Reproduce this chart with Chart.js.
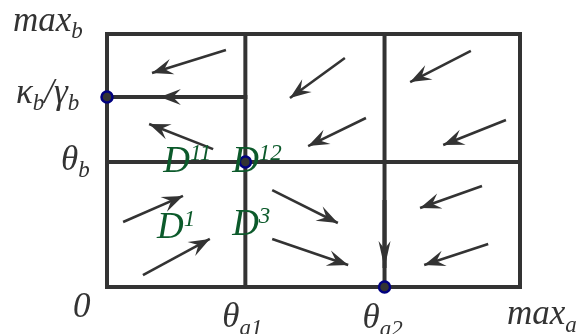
<!DOCTYPE html>
<html><head><meta charset="utf-8">
<script src="https://cdn.jsdelivr.net/npm/chart.js@4/dist/chart.umd.min.js"></script>
<style>html,body{margin:0;padding:0;background:#fff;overflow:hidden}#c{display:block}</style>
</head><body>
<canvas id="c" width="582" height="334"></canvas>
<script>
// ---- thresholds (axes normalised 0..1) ----
const thetaA1 = 0.335, thetaA2 = 0.672, thetaB = 0.494, kappaB = 0.751;

// ---- boundary / threshold segments [x0, y0, x1, y1] ----
const segX0 = [0, 1, 1, 0, thetaA1, thetaA2, 0, 0];
const segY0 = [0, 0, 1, 1, 0, 0, thetaB, kappaB];
const segX1 = [1, 1, 0, 0, thetaA1, thetaA2, 1, thetaA1];
const segY1 = [0, 1, 1, 0, 1, 1, thetaB, kappaB];

// ---- flow arrows: tail -> tip ----
const arrowTailX = [0.288, 0.225, 0.257, 0.039, 0.087, 0.400, 0.400, 0.908, 0.923, 0.576, 0.627, 0.881, 0.966, thetaA2];
const arrowTailY = [0.937, kappaB, 0.545, 0.257, 0.047, 0.383, 0.190, 0.399, 0.170, 0.905, 0.668, 0.933, 0.660, 0.344];
const arrowTipX  = [0.109, 0.128, 0.102, 0.184, 0.249, 0.559, 0.584, 0.758, 0.768, 0.443, 0.487, 0.734, 0.814, thetaA2];
const arrowTipY  = [0.846, kappaB, 0.644, 0.360, 0.190, 0.253, 0.087, 0.312, 0.087, 0.747, 0.557, 0.810, 0.561, 0.075];
const arrowLong  = [false,false,false,false,false,false,false,false,false,false,false,false,false,true];

// ---- equilibrium points ----
const eqX = [0, thetaA1, thetaA2];
const eqY = [kappaB, thetaB, 0];

// ---- tick labels ----
const yTickValues = [1, kappaB, thetaB];
const yTickLabels = ['max_{b}', 'κ_{b}/γ_{b}', 'θ_{b}'];
const xTickValues = [0, thetaA1, thetaA2, 1];
const xTickLabels = ['0', 'θ_{a1}', 'θ_{a2}', 'max_{a}'];

// ---- region labels ----
const regionLabels = ['D^{11}', 'D^{12}', 'D^{1}', 'D^{3}'];
const regionLabelX = [0.136, 0.303, 0.121, 0.303];
const regionLabelY = [0.455, 0.455, 0.194, 0.206];

// ---- layout of text (pixel offsets from anchor: left edge, baseline) ----
const yLabelDx = [-94, -91, -46];
const yLabelDy = [-3, 6, 8];
const xLabelDx = [-34, -23, -22, -13];
const xLabelDy = [30, 40, 41, 37];

const GRID = '#333333', GREEN = '#0c5a2b';

function parseRich(s) {
  const parts = []; const re = /([_^])\{([^}]*)\}/g; let last = 0, m;
  while ((m = re.exec(s))) {
    if (m.index > last) parts.push({t: s.slice(last, m.index), k: ''});
    parts.push({t: m[2], k: m[1]}); last = re.lastIndex;
  }
  if (last < s.length) parts.push({t: s.slice(last), k: ''});
  return parts;
}
function drawRich(ctx, s, x, y, base, small, color, shift) {
  ctx.save(); ctx.fillStyle = color; ctx.textBaseline = 'alphabetic'; ctx.textAlign = 'left';
  let cx = x;
  for (const p of parseRich(s)) {
    const sz = p.k ? small : base;
    ctx.font = 'italic ' + sz + 'px "Liberation Serif", "DejaVu Serif", serif';
    const dy = p.k === '_' ? shift.sub : (p.k === '^' ? -shift.sup : 0);
    ctx.fillText(p.t, cx, y + dy);
    cx += ctx.measureText(p.t).width;
  }
  ctx.restore();
}

const overlay = {
  id: 'overlay',
  afterDatasetsDraw(chart) {
    const ctx = chart.ctx, xs = chart.scales.x, ys = chart.scales.y;
    // arrowheads
    for (let i = 0; i < arrowTipX.length; i++) {
      const x0 = xs.getPixelForValue(arrowTailX[i]), y0 = ys.getPixelForValue(arrowTailY[i]);
      const x1 = xs.getPixelForValue(arrowTipX[i]), y1 = ys.getPixelForValue(arrowTipY[i]);
      const a = Math.atan2(y1 - y0, x1 - x0);
      const L = arrowLong[i] ? 27 : 21, W = arrowLong[i] ? 6 : 8, N = arrowLong[i] ? 19 : 13;
      const c = Math.cos(a), s = Math.sin(a);
      ctx.save(); ctx.fillStyle = GRID; ctx.beginPath();
      ctx.moveTo(x1, y1);
      ctx.lineTo(x1 - L * c - W * s, y1 - L * s + W * c);
      ctx.lineTo(x1 - N * c, y1 - N * s);
      ctx.lineTo(x1 - L * c + W * s, y1 - L * s - W * c);
      ctx.closePath(); ctx.fill(); ctx.restore();
    }
    // tick labels
    const left = xs.getPixelForValue(0), bottom = ys.getPixelForValue(0);
    yTickValues.forEach((v, i) => {
      drawRich(ctx, yTickLabels[i], left + yLabelDx[i], ys.getPixelForValue(v) + yLabelDy[i], 35, 23, GRID, {sub: 7, sup: 0});
    });
    xTickValues.forEach((v, i) => {
      drawRich(ctx, xTickLabels[i], xs.getPixelForValue(v) + xLabelDx[i], bottom + xLabelDy[i], 35, 23, GRID, {sub: 8, sup: 0});
    });
    regionLabels.forEach((t, i) => {
      drawRich(ctx, t, xs.getPixelForValue(regionLabelX[i]), ys.getPixelForValue(regionLabelY[i]), 37, 23, GREEN, {sub: 0, sup: 12});
    });
  }
};

const datasets = [];
datasets.push({
  data: eqX.map((x, i) => ({x, y: eqY[i]})), showLine: false,
  pointRadius: 5.5, pointBackgroundColor: '#333', pointBorderColor: '#00007f', pointBorderWidth: 2.5, order: 0, clip: false
});
for (let i = 0; i < arrowTipX.length; i++) {
  datasets.push({
    data: [{x: arrowTailX[i], y: arrowTailY[i]}, {x: arrowTipX[i], y: arrowTipY[i]}],
    showLine: true, borderColor: GRID, borderWidth: arrowLong[i] ? 4 : 2.6, pointRadius: 0, order: 1, clip: false
  });
}
for (let i = 0; i < segX0.length; i++) {
  datasets.push({
    data: [{x: segX0[i], y: segY0[i]}, {x: segX1[i], y: segY1[i]}],
    showLine: true, borderColor: GRID, borderWidth: 4, borderCapStyle: 'square', pointRadius: 0, order: 2, clip: false
  });
}

new Chart(document.getElementById('c'), {
  type: 'scatter',
  data: {datasets},
  options: {
    responsive: false, animation: false, devicePixelRatio: 1,
    layout: {padding: {left: 107, right: 62, top: 34, bottom: 47}},
    plugins: {legend: {display: false}, tooltip: {enabled: false}},
    scales: {
      x: {type: 'linear', min: 0, max: 1, display: false},
      y: {type: 'linear', min: 0, max: 1, display: false}
    }
  },
  plugins: [overlay]
});
</script>
</body></html>
